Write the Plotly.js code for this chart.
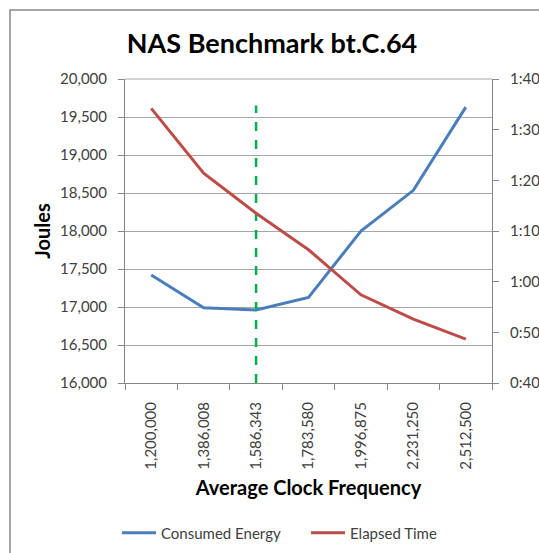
<!DOCTYPE html>
<html>
<head>
<meta charset="utf-8">
<script src="https://cdn.plot.ly/plotly-3.0.1.min.js"></script>
<style>html,body{margin:0;padding:0;background:#fff;}#chart{width:539px;height:553px;}</style>
</head>
<body>
<div id="chart"></div>
<script>
const categories = ["1,200,000","1,386,008","1,586,343","1,783,580","1,996,875","2,231,250","2,512,500"];
const energyJoules = [17420, 16990, 16960, 17125, 18000, 18535, 19630];
const elapsedMinutes = [94.2, 81.4, 73.5, 66.3, 57.4, 52.6, 48.65];
const markerCategory = "1,586,343";
const markerRange = [16000, 19650];
const leftTicks = [16000,16500,17000,17500,18000,18500,19000,19500,20000];
const rightTickVals = [40,50,60,70,80,90,100];
const rightTickText = ["0:40","0:50","1:00","1:10","1:20","1:30","1:40"];

const W = 539, H = 553, L = 125, R = 47, T = 79, B = 170;
const pw = W - L - R, ph = H - T - B;
const px = x => (x - L) / pw;
const py = y => (H - B - y) / ph;

const font = "Lato, 'Open Sans', sans-serif";
const data = [
  {x: categories, y: energyJoules, type: "scatter", mode: "lines", name: "Consumed Energy",
   line: {color: "#4A7EBB", width: 3}, yaxis: "y"},
  {x: categories, y: elapsedMinutes, type: "scatter", mode: "lines", name: "Elapsed Time",
   line: {color: "#BE4B48", width: 3}, yaxis: "y2"},
  {x: [markerCategory, markerCategory], y: markerRange, type: "scatter", mode: "lines",
   line: {color: "#00B050", width: 2.5, dash: "dash"}, showlegend: false, yaxis: "y"}
];
const layout = {
  width: W, height: H,
  margin: {l: L, r: R, t: T, b: B, autoexpand: false},
  paper_bgcolor: "#fff", plot_bgcolor: "#fff",
  font: {family: font, color: "#404040", size: 15},
  title: {text: "<b>NAS Benchmark bt.C.64</b>", font: {family: font, size: 27, color: "#000"},
          xref: "container", x: 272/W, xanchor: "center", yref: "container", y: 1 - 44/H, yanchor: "middle"},
  showlegend: true,
  legend: {orientation: "h", x: px(117), xanchor: "left", y: py(533), yanchor: "middle",
           font: {size: 15, color: "#404040"}, itemwidth: 34, entrywidth: 140, entrywidthmode: "pixels"},
  xaxis: {type: "category", range: [-0.5, 6.5], tickangle: -90, ticks: "outside", ticklen: 6, tickcolor: "#868686",
          tickson: "boundaries", showline: true, linecolor: "#868686", linewidth: 1,
          showgrid: false, tickfont: {size: 15, color: "#404040"}, ticklabelstandoff: 12,
          title: {text: "<b>Average Clock Frequency</b>", font: {size: 20, color: "#000"}, standoff: 12}},
  yaxis: {range: [16000, 20000], tickvals: leftTicks, tickformat: ",d", ticks: "outside", ticklen: 6,
          tickcolor: "#868686", showline: true, linecolor: "#868686", showgrid: true,
          gridcolor: "#A6A6A6", gridwidth: 1, zeroline: false, tickfont: {size: 15, color: "#404040"},
          ticklabelstandoff: 8,
          title: {text: "<b>Joules</b>", font: {size: 20, color: "#000"}, standoff: 4}},
  yaxis2: {range: [40, 100], overlaying: "y", side: "right", tickvals: rightTickVals, ticktext: rightTickText,
           ticks: "outside", ticklen: 6, tickcolor: "#868686", showline: true, linecolor: "#868686",
           showgrid: false, zeroline: false, tickfont: {size: 15, color: "#404040"}, ticklabelstandoff: 8},
  shapes: [
    {type: "rect", xref: "paper", yref: "paper", x0: px(10), x1: px(600), y0: py(600), y1: py(10),
     line: {color: "#888", width: 1.5}, fillcolor: "rgba(0,0,0,0)", layer: "below"},
    {type: "line", xref: "paper", yref: "paper", x0: 0, x1: 1, y0: 1, y1: 1, line: {color: "#A6A6A6", width: 1}}
  ]
};
Plotly.newPlot("chart", data, layout, {displayModeBar: false, staticPlot: true});
</script>
</body>
</html>
